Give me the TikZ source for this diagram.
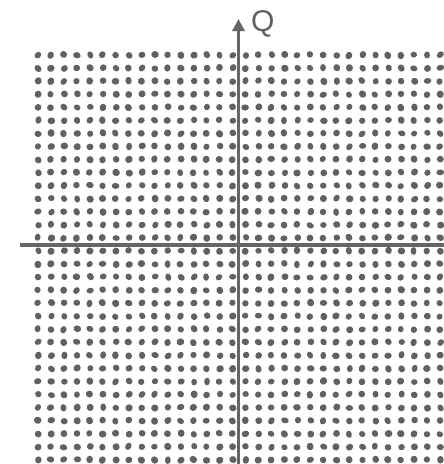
\documentclass[tikz,border=0pt]{standalone}
\usepackage{fontspec}
\setmainfont{Liberation Sans}
\usetikzlibrary{arrows.meta}
\begin{document}
\begin{tikzpicture}[x=1pt,y=-1pt,
  axis/.style={draw=black!60,line width=3.2pt},
  pt/.style={fill=black!62}]
\useasboundingbox (0,0) rectangle (444,464);
\fill[white] (0,0) rectangle (444,464);
\pgfmathsetseed{7}
\foreach \i in {0,...,31}{
  \foreach \j in {0,...,31}{
    \pgfmathsetmacro{\px}{38+12.97*\i+0.6*rand}
    \pgfmathsetmacro{\py}{55+13.06*\j+0.6*rand}
    \pgfmathsetmacro{\ra}{3.5+0.35*rand}
    \pgfmathsetmacro{\rb}{3.2+0.35*rand}
    \pgfmathsetmacro{\rot}{180*rand}
    \fill[pt,rotate around={\rot:(\px,\py)}] (\px,\py) ellipse [x radius=\ra, y radius=\rb];
  }
}
\coordinate (xl) at (20,245);
\coordinate (xr) at (444,245);
\coordinate (yb) at (238.5,464);
\coordinate (yt) at (238.5,19);
\draw[axis] (xl) -- (xr);
\draw[axis,-{Triangle[length=12pt,width=12pt]}] (yb) -- (yt);
\node[text=black!62,font=\fontsize{30}{30}\selectfont,inner sep=0pt,anchor=base west] (q) at (251,31) {Q};
\end{tikzpicture}
\end{document}
